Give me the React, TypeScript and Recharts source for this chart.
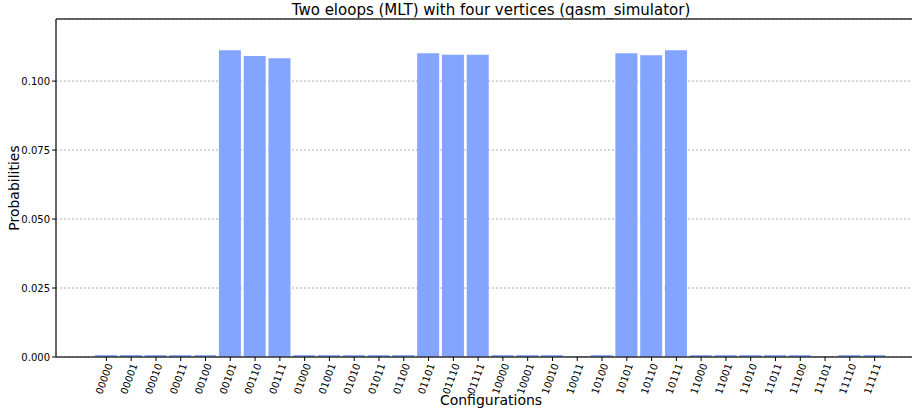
import React from "react";
import { BarChart, Bar, XAxis, YAxis, CartesianGrid, ReferenceLine } from "recharts";

const configurations = [
  "00000", "00001", "00010", "00011", "00100", "00101", "00110", "00111",
  "01000", "01001", "01010", "01011", "01100", "01101", "01110", "01111",
  "10000", "10001", "10010", "10011", "10100", "10101", "10110", "10111",
  "11000", "11001", "11010", "11011", "11100", "11101", "11110", "11111",
];

const probabilities = [
  0.0007, 0.0007, 0.0007, 0.0007, 0.0007, 0.1112, 0.1091, 0.1083,
  0.0007, 0.0007, 0.0007, 0.0007, 0.0007, 0.1101, 0.1095, 0.1095,
  0.0007, 0.0007, 0.0007, 0.0002, 0.0007, 0.1101, 0.1094, 0.1112,
  0.0007, 0.0007, 0.0007, 0.0007, 0.0007, 0.0002, 0.0007, 0.0007,
];

const yTicks = [0, 0.025, 0.05, 0.075, 0.1];
const yMax = 0.1225;

const data = configurations.map((c, i) => ({ config: c, prob: probabilities[i] }));

const FONT = "'DejaVu Sans', sans-serif";
const AXIS_Y = 357;

const XTick = (props: any) => {
  const { x, payload } = props;
  return (
    <g>
      <line x1={x} y1={AXIS_Y} x2={x} y2={AXIS_Y + 4} stroke="#000" strokeWidth={1} />
      <text
        x={0}
        y={0}
        textAnchor="end"
        transform={`translate(${x + 6.5},${AXIS_Y + 8}) rotate(-70)`}
        fontSize={10}
        fontFamily={FONT}
        fill="#000"
      >
        {payload.value}
      </text>
    </g>
  );
};

export default function App() {
  return (
    <div style={{ position: "absolute", left: 0, top: 0, width: 913, height: 416, background: "#fff" }}>
      <div
        style={{
          position: "absolute",
          left: 56,
          width: 870,
          top: 1,
          textAlign: "center",
          fontFamily: FONT,
          fontSize: 15,
          color: "#000",
        }}
      >
        Two eloops (MLT) with four vertices (qasm_simulator)
      </div>
      <BarChart
        width={913}
        height={416}
        data={data}
        margin={{ top: 19, right: 1, bottom: 0, left: 8 }}
        barSize={22}
      >
        <CartesianGrid
          horizontal={true}
          vertical={false}
          stroke="#999"
          strokeDasharray="2 2"
          strokeWidth={0.8}
        />
        <XAxis
          dataKey="config"
          interval={0}
          height={59}
          padding={{ left: 38, right: 25 }}
          axisLine={{ stroke: "#333", strokeWidth: 1.5 }}
          tickLine={false}
          tick={<XTick />}
          label={{
            value: "Configurations",
            position: "insideBottom",
            offset: 11,
            dx: 7,
            style: { fontFamily: FONT, fontSize: 14, fill: "#000" },
          }}
        />
        <YAxis
          width={48}
          domain={[0, yMax]}
          ticks={yTicks}
          allowDataOverflow
          tickFormatter={(v: number) => v.toFixed(3)}
          axisLine={{ stroke: "#333", strokeWidth: 1.5 }}
          tickLine={{ stroke: "#000" }}
          tickSize={4}
          tick={{ fontFamily: FONT, fontSize: 10, fill: "#000" }}
          label={{
            value: "Probabilities",
            angle: -90,
            position: "insideLeft",
            offset: 6,
            style: { fontFamily: FONT, fontSize: 14, fill: "#000", textAnchor: "middle" },
          }}
        />
        <ReferenceLine y={yMax} stroke="#333" strokeWidth={1.5} ifOverflow="extendDomain" />
        <Bar dataKey="prob" fill="#83a5ff" isAnimationActive={false} />
      </BarChart>
    </div>
  );
}
